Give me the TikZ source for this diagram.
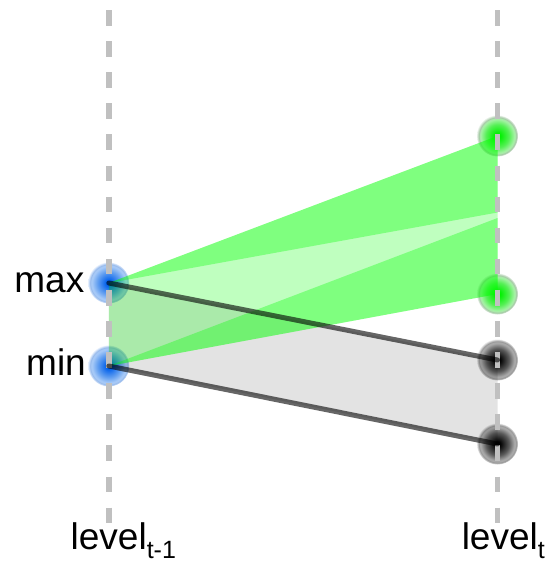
\documentclass[tikz,border=0pt]{standalone}
\usepackage{fontspec}
\setmainfont{Liberation Sans}
\definecolor{bA}{RGB}{0,95,235}
\definecolor{bB}{RGB}{100,160,240}
\definecolor{bC}{RGB}{172,205,248}
\definecolor{bD}{RGB}{150,185,235}
\definecolor{bE}{RGB}{228,238,252}
\definecolor{gA}{RGB}{0,240,0}
\definecolor{gB}{RGB}{85,240,85}
\definecolor{gC}{RGB}{170,242,170}
\definecolor{gD}{RGB}{165,198,165}
\definecolor{gE}{RGB}{232,242,232}
\definecolor{kA}{RGB}{0,0,0}
\definecolor{kB}{RGB}{90,90,90}
\definecolor{kC}{RGB}{175,175,175}
\definecolor{kD}{RGB}{150,150,150}
\definecolor{kE}{RGB}{232,232,232}
\definecolor{dashgray}{RGB}{192,192,192}
\pgfdeclareradialshading{blueglow}{\pgfpoint{0bp}{0bp}}{color(0bp)=(bA); color(3bp)=(bA); color(14bp)=(bB); color(21bp)=(bC); color(23bp)=(bD); color(25bp)=(bE); color(50bp)=(bE)}
\pgfdeclareradialshading{greenglow}{\pgfpoint{0bp}{0bp}}{color(0bp)=(gA); color(3bp)=(gA); color(14bp)=(gB); color(21bp)=(gC); color(23bp)=(gD); color(25bp)=(gE); color(50bp)=(gE)}
\pgfdeclareradialshading{blackglow}{\pgfpoint{0bp}{0bp}}{color(0bp)=(kA); color(3bp)=(kA); color(14bp)=(kB); color(21bp)=(kC); color(23bp)=(kD); color(25bp)=(kE); color(50bp)=(kE)}
\begin{document}
\begin{tikzpicture}[x=1pt,y=-1pt,
  pt/.style={circle, minimum size=41pt, inner sep=0pt, shading=#1},
  lightgreen/.style={fill=green, fill opacity=0.25},
  brightgreen/.style={fill=green, fill opacity=0.3333},
  grayfill/.style={fill=black, fill opacity=0.11},
  dashline/.style={draw=dashgray, line width=5.5pt, dash pattern=on 15.6pt off 15.5pt},
  darkline/.style={draw=black, draw opacity=0.6, line width=5pt, line cap=round},
  lab/.style={inner sep=0pt, font=\fontsize{37}{41}\selectfont}]
\useasboundingbox (0,0) rectangle (545,562);
% points
\node[pt=blueglow] (max) at (108.8,283) {};
\node[pt=blueglow] (min) at (108.8,366) {};
\node[pt=greenglow] (gt) at (497.5,136) {};
\node[pt=greenglow] (gb) at (497.5,294) {};
\node[pt=blackglow] (kt) at (497.5,360) {};
\node[pt=blackglow] (kb) at (497.5,444) {};
\coordinate (p1) at (497.5,212.5);
\coordinate (p2) at (497.5,218);
% fills
\fill[grayfill] (max.center) -- (kt.center) -- (kb.center) -- (min.center) -- cycle;
\fill[lightgreen] (max.center) -- (gt.center) -- (gb.center) -- (min.center) -- cycle;
\fill[brightgreen] (max.center) -- (gt.center) -- (p1) -- cycle;
\fill[brightgreen] (min.center) -- (p2) -- (gb.center) -- cycle;
% dashed guides
\coordinate (lt) at (108.8,10);
\coordinate (lb) at (108.8,523);
\coordinate (rt) at (497.5,10);
\coordinate (rb) at (497.5,523);
\draw[dashline] (lt) -- (lb);
\draw[dashline] (rt) -- (rb);
% connectors
\draw[darkline] (max.center) -- (kt.center);
\draw[darkline] (min.center) -- (kb.center);
% labels
\node[lab, anchor=base east] (tmax) at (84.5,292) {max};
\node[lab, anchor=base east] (tmin) at (86,375) {min};
\node[lab, anchor=base west] (lv1) at (70.5,549) {level\raisebox{-9pt}{\fontsize{25}{25}\selectfont t-1}};
\node[lab, anchor=base east] (lv2) at (545,549) {level\raisebox{-9pt}{\fontsize{25}{25}\selectfont t}};
\end{tikzpicture}
\end{document}
